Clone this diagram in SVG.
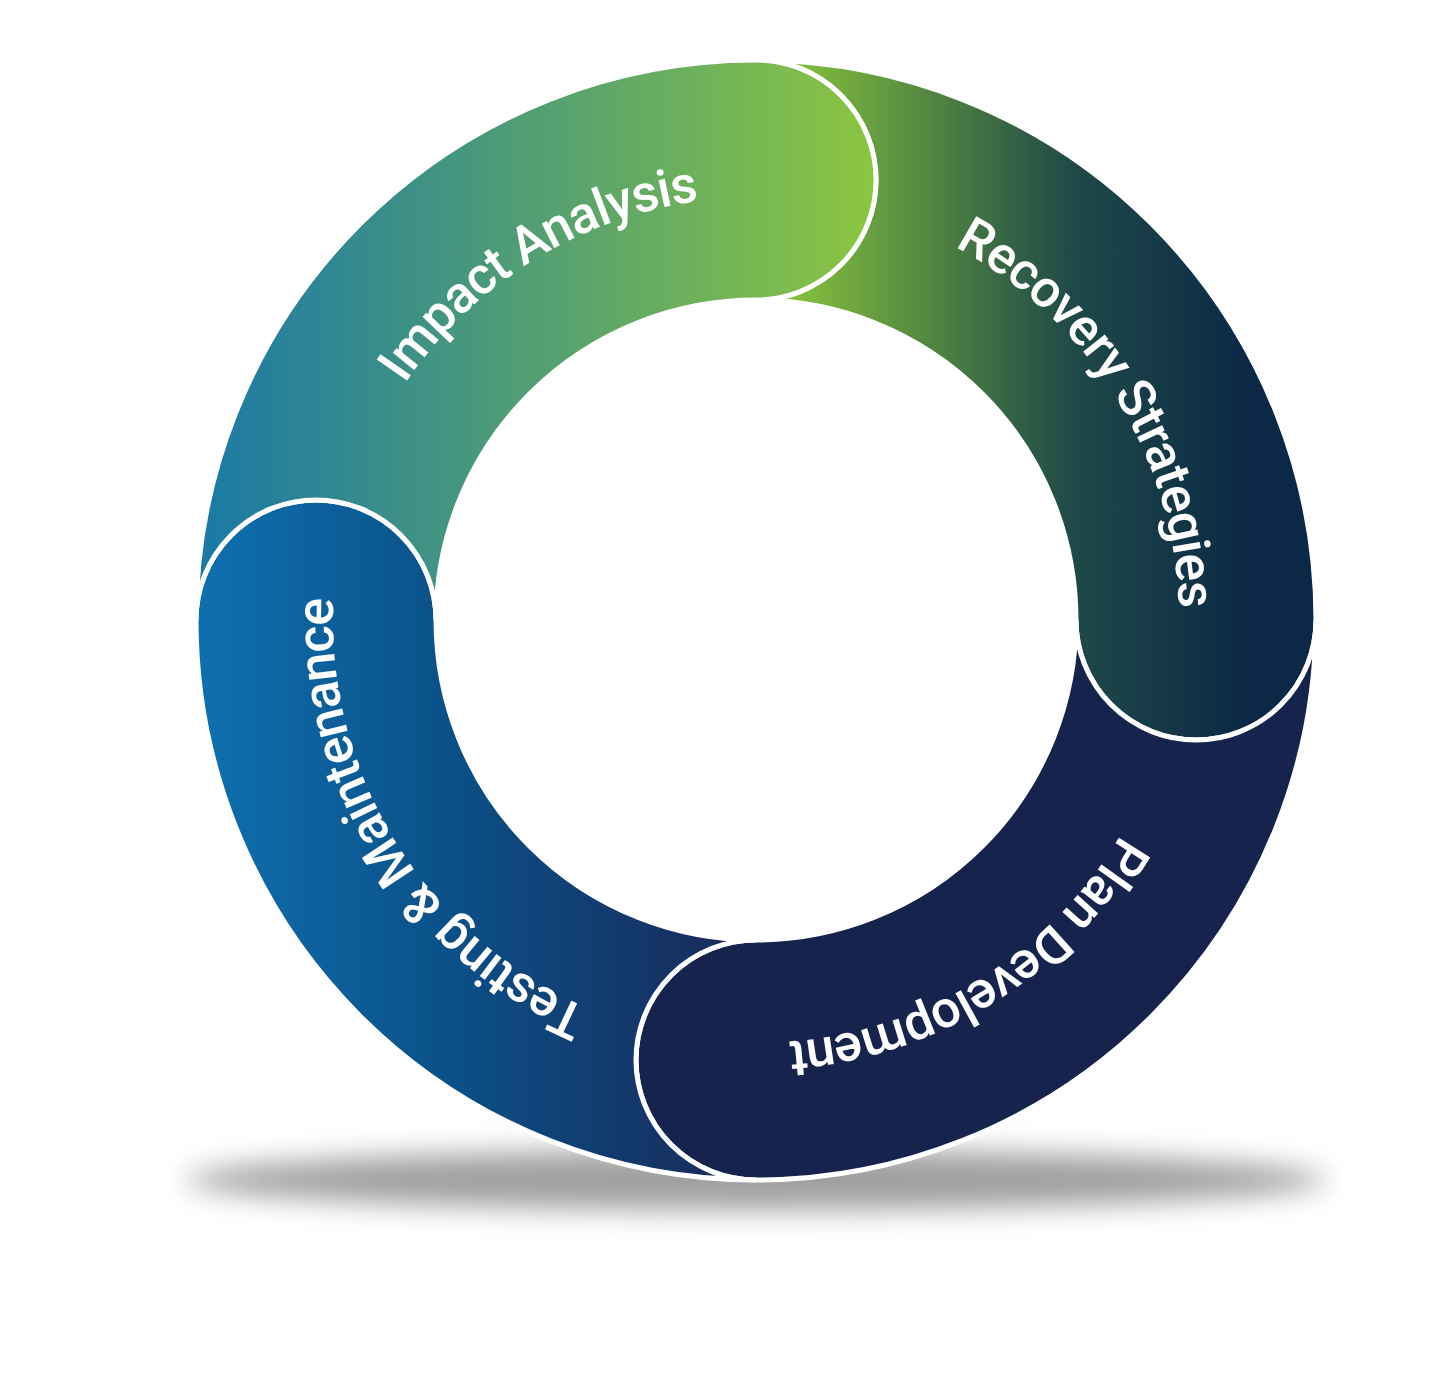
<svg xmlns="http://www.w3.org/2000/svg" width="1440" height="1392" viewBox="0 0 1440 1392">
<defs>
<linearGradient id="gI" gradientUnits="userSpaceOnUse" x1="196" y1="0" x2="880" y2="0"><stop offset="0" stop-color="#1a78a6"/><stop offset="1" stop-color="#8dc63f"/></linearGradient>
<linearGradient id="gR" gradientUnits="userSpaceOnUse" x1="800" y1="0" x2="1250" y2="0"><stop offset="0" stop-color="#82bd3c"/><stop offset="0.6" stop-color="#1f4a48"/><stop offset="1" stop-color="#0b2846"/></linearGradient>
<linearGradient id="gT" gradientUnits="userSpaceOnUse" x1="196" y1="0" x2="720" y2="0"><stop offset="0" stop-color="#0e70b0"/><stop offset="0.5" stop-color="#0b4f86"/><stop offset="1" stop-color="#182c5c"/></linearGradient>
<filter id="blur" x="-20%" y="-200%" width="140%" height="500%"><feGaussianBlur stdDeviation="14"/></filter>
<path id="circ" d="M 1179 620 A 423 423 0 1 1 333 620 A 423 423 0 1 1 1179 620"/>
<style>
.seg{stroke:#fff;stroke-width:5}
.lbl{font-family:Roboto,"Liberation Sans",sans-serif;font-size:52px;font-weight:500;fill:#fff;letter-spacing:-1px}
</style>
</defs>
<ellipse cx="756" cy="1180" rx="570" ry="30" fill="#777" opacity="0.7" filter="url(#blur)"/>
<g id="recovery"><path class="seg" fill="url(#gR)" d="M 756 60 A 560 560 0 0 1 1316 620 A 120 120 0 0 1 1076 620 A 320 320 0 0 0 756 300 A 120 120 0 0 0 756 60 Z"/></g>
<g id="plan"><path class="seg" fill="#16234d" d="M 1316 620 A 560 560 0 0 1 756 1180 A 120 120 0 0 1 756 940 A 320 320 0 0 0 1076 620 A 120 120 0 0 0 1316 620 Z"/></g>
<g id="testing"><path class="seg" fill="url(#gT)" d="M 756 1180 A 560 560 0 0 1 196 620 A 120 120 0 0 1 436 620 A 320 320 0 0 0 756 940 A 120 120 0 0 0 756 1180 Z"/></g>
<g id="impact"><path class="seg" fill="url(#gI)" d="M 196 620 A 560 560 0 0 1 756 60 A 120 120 0 0 1 756 300 A 320 320 0 0 0 436 620 A 120 120 0 0 0 196 620 Z"/></g>
<g id="labels">
<text class="lbl" text-anchor="middle"><textPath href="#circ" startOffset="1757">Impact Analysis</textPath></text>
<text class="lbl" text-anchor="middle"><textPath href="#circ" startOffset="2422">Recovery Strategies</textPath></text>
<text class="lbl" text-anchor="middle"><textPath href="#circ" startOffset="428">Plan Development</textPath></text>
<text class="lbl" text-anchor="middle"><textPath href="#circ" startOffset="1093">Testing &amp; Maintenance</textPath></text>
</g>
<g id="connectors"/>
</svg>
